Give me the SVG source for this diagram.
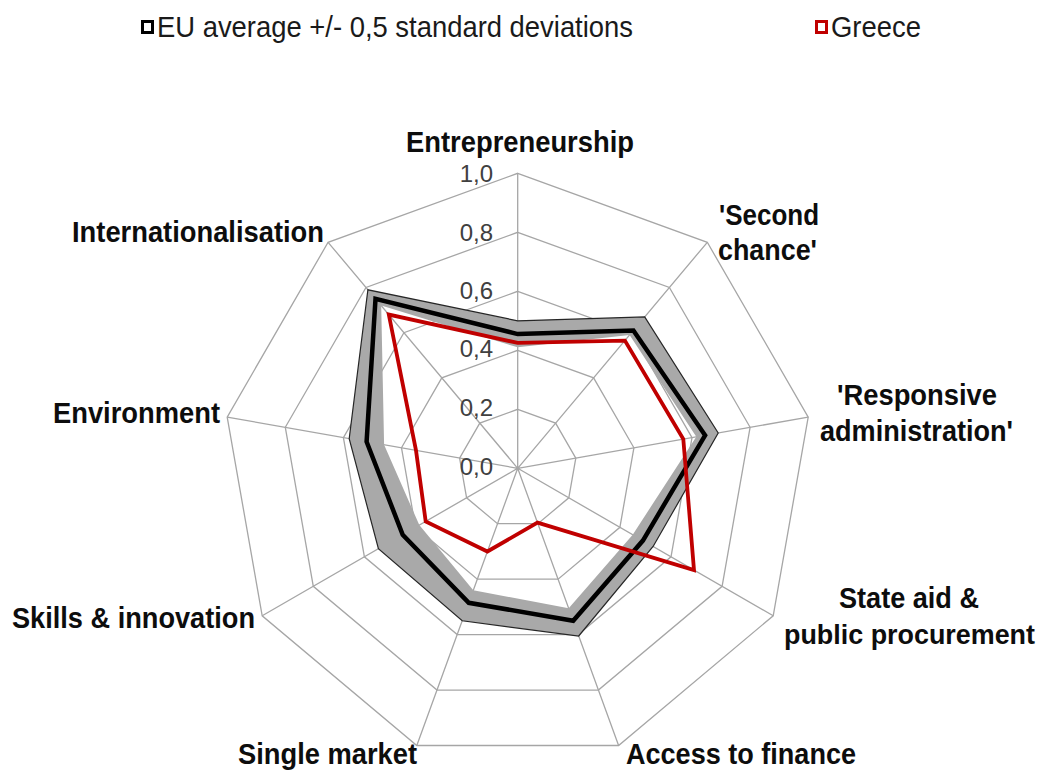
<svg xmlns="http://www.w3.org/2000/svg" width="1046" height="771" viewBox="0 0 1046 771">
<style>
  .grid { fill: none; stroke: #a6a6a6; stroke-width: 1.3; }
  .cat { font-family: "Liberation Sans", Arial, sans-serif; font-weight: bold; font-size: 29px; fill: #0d0d0d; }
  .num { font-family: "Liberation Sans", Arial, sans-serif; font-size: 24px; fill: #404040; text-anchor: end; }
  .leg { font-family: "Liberation Sans", Arial, sans-serif; font-size: 29px; fill: #1a1a1a; }
  .band { fill: #a9a9a9; fill-rule: evenodd; }
  .bandEdge { fill: none; stroke: #262626; stroke-width: 1.2; stroke-linejoin: miter; }
  .mean { fill: none; stroke: #000; stroke-width: 4.5; stroke-linejoin: miter; }
  .greece { fill: none; stroke: #c00000; stroke-width: 3.8; stroke-linejoin: miter; }
</style>
<rect width="1046" height="771" fill="#ffffff"/>

<g id="legend">
  <rect x="142.5" y="21.5" width="10" height="11" fill="#fff" stroke="#000" stroke-width="3"/>
  <text class="leg" x="157" y="37" textLength="476" lengthAdjust="spacingAndGlyphs">EU average +/- 0,5 standard deviations</text>
  <rect x="816.5" y="21.5" width="10" height="11" fill="#fff" stroke="#c00000" stroke-width="3"/>
  <text class="leg" x="831" y="37" textLength="90" lengthAdjust="spacingAndGlyphs">Greece</text>
</g>

<g id="chart" transform="translate(517.7,468.3)">
  <g id="grid">
    <polygon class="grid" points="0,-59 37.9,-45.2 58.1,-10.2 51.1,29.5 20.2,55.4 -20.2,55.4 -51.1,29.5 -58.1,-10.2 -37.9,-45.2"/>
    <polygon class="grid" points="0,-118 75.9,-90.4 116.2,-20.5 102.2,59 40.4,110.9 -40.4,110.9 -102.2,59 -116.2,-20.5 -75.9,-90.4"/>
    <polygon class="grid" points="0,-177 113.8,-135.6 174.3,-30.7 153.3,88.5 60.5,166.3 -60.5,166.3 -153.3,88.5 -174.3,-30.7 -113.8,-135.6"/>
    <polygon class="grid" points="0,-236 151.7,-180.8 232.4,-41 204.4,118 80.7,221.8 -80.7,221.8 -204.4,118 -232.4,-41 -151.7,-180.8"/>
    <polygon class="grid" points="0,-295 189.6,-226 290.5,-51.2 255.5,147.5 100.9,277.2 -100.9,277.2 -255.5,147.5 -290.5,-51.2 -189.6,-226"/>
    <path class="grid" d="M0,0L0,-295M0,0L189.6,-226M0,0L290.5,-51.2M0,0L255.5,147.5M0,0L100.9,277.2M0,0L-100.9,277.2M0,0L-255.5,147.5M0,0L-290.5,-51.2M0,0L-189.6,-226"/>
  </g>
  <g id="eu-band">
    <path class="band" d="M0,-147.5 L127,-151.4 L200.5,-35.3 L135.4,78.2 L61,167.7 L-55.5,152.5 L-139.3,80.4 L-168.5,-29.7 L-149.8,-178.5 Z M0,-120.95 L111.9,-133.3 L178.6,-31.5 L115,66.4 L51,140 L-44.4,122 L-98.4,56.8 L-133.6,-23.6 L-136.5,-162.7 Z"/>
    <polygon class="bandEdge" points="0,-147.5 127,-151.4 200.5,-35.3 135.4,78.2 61,167.7 -55.5,152.5 -139.3,80.4 -168.5,-29.7 -149.8,-178.5"/>
  </g>
  <g id="eu-average">
    <polygon class="mean" points="0,-134.2 115.7,-137.8 187.4,-33 125.2,72.3 55.5,152.5 -48.9,134.5 -115,66.4 -151.1,-26.6 -142.2,-169.5"/>
  </g>
  <g id="greece">
    <polygon class="greece" points="0,-125.4 107.2,-127.7 165.6,-29.2 176.3,101.8 19.8,54.3 -30.3,83.2 -92,53.1 -101.7,-17.9 -128.9,-153.7"/>
  </g>
</g>

<g id="scale-labels">
  <text class="num" x="493" y="182">1,0</text>
  <text class="num" x="493" y="241">0,8</text>
  <text class="num" x="493" y="299">0,6</text>
  <text class="num" x="493" y="357">0,4</text>
  <text class="num" x="493" y="416">0,2</text>
  <text class="num" x="493" y="475">0,0</text>
</g>

<g id="axis-entrepreneurship"><text class="cat" x="406" y="152" textLength="228" lengthAdjust="spacingAndGlyphs">Entrepreneurship</text></g>
<g id="axis-second-chance">
  <text class="cat" x="719" y="225" textLength="100" lengthAdjust="spacingAndGlyphs">'Second</text>
  <text class="cat" x="718" y="260" textLength="99" lengthAdjust="spacingAndGlyphs">chance'</text>
</g>
<g id="axis-responsive-administration">
  <text class="cat" x="837" y="405" textLength="160" lengthAdjust="spacingAndGlyphs">'Responsive</text>
  <text class="cat" x="820" y="441" textLength="193" lengthAdjust="spacingAndGlyphs">administration'</text>
</g>
<g id="axis-state-aid">
  <text class="cat" x="839" y="608" textLength="140" lengthAdjust="spacingAndGlyphs">State aid &amp;</text>
  <text class="cat" x="784" y="644" style="font-size:27.5px" textLength="251" lengthAdjust="spacingAndGlyphs">public procurement</text>
</g>
<g id="axis-access-to-finance"><text class="cat" x="626" y="764" textLength="230" lengthAdjust="spacingAndGlyphs">Access to finance</text></g>
<g id="axis-single-market"><text class="cat" x="238" y="764" textLength="179" lengthAdjust="spacingAndGlyphs">Single market</text></g>
<g id="axis-skills-innovation"><text class="cat" x="12" y="628" textLength="243" lengthAdjust="spacingAndGlyphs">Skills &amp; innovation</text></g>
<g id="axis-environment"><text class="cat" x="53" y="423" textLength="167" lengthAdjust="spacingAndGlyphs">Environment</text></g>
<g id="axis-internationalisation"><text class="cat" x="72" y="242" textLength="252" lengthAdjust="spacingAndGlyphs">Internationalisation</text></g>
</svg>
